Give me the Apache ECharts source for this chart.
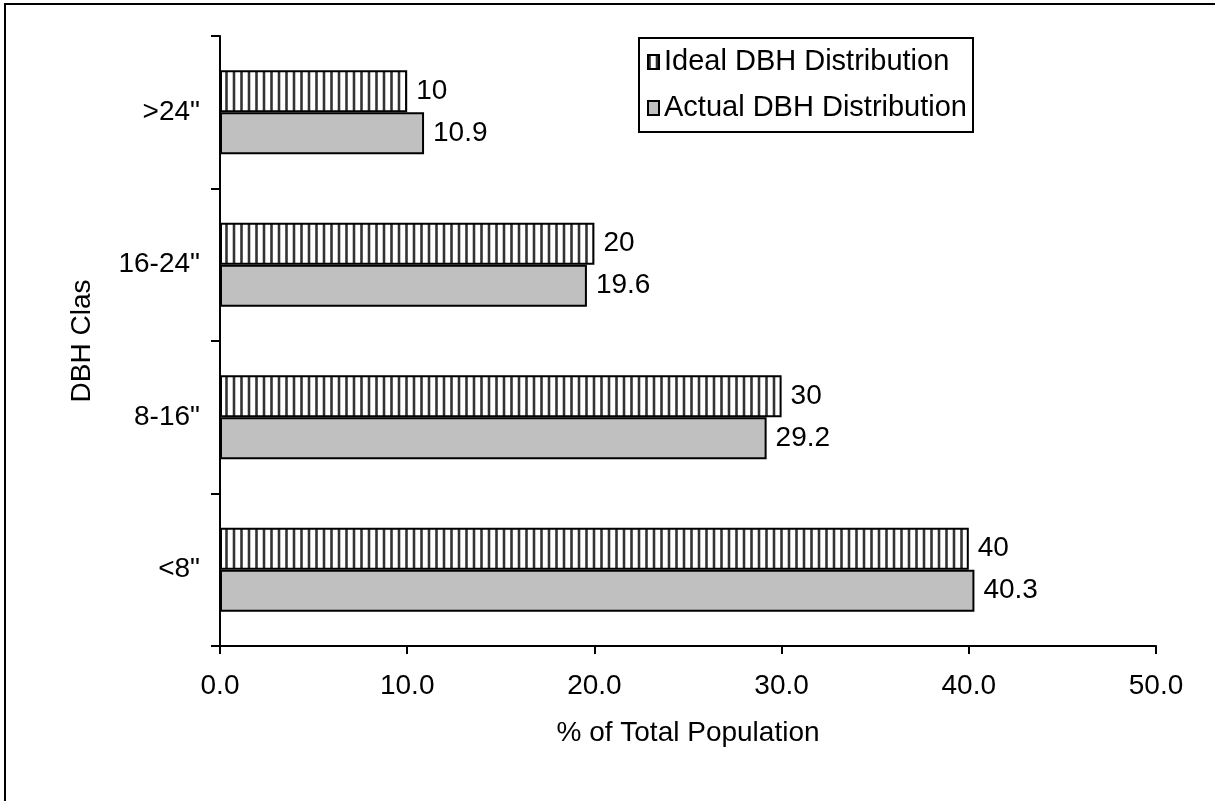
<!DOCTYPE html>
<html>
<head>
<meta charset="utf-8">
<title>DBH Distribution</title>
<script src="https://cdn.jsdelivr.net/npm/echarts@6/dist/echarts.min.js"></script>
<style>
  html, body { margin: 0; padding: 0; background: #fff; }
  #chart { width: 1215px; height: 801px; }
</style>
</head>
<body>
<div id="chart"></div>
<script>
// DBH classes, listed from the bottom of the axis upward
const categories = ['<8"', '8-16"', '16-24"', '>24"'];
const idealValues = [40, 30, 20, 10];
const actualValues = [40.3, 29.2, 19.6, 10.9];
const seriesNames = ['Ideal DBH Distribution', 'Actual DBH Distribution'];
const xTicks = { min: 0, max: 50, interval: 10 };

const FONT = '"Liberation Sans", Arial, sans-serif';

// vertical hatch fill for the ideal bars
function makeStripePattern() {
  const c = document.createElement('canvas');
  c.width = 15; c.height = 4;
  const g = c.getContext('2d');
  g.fillStyle = '#ffffff';
  g.fillRect(0, 0, 15, 4);
  [0, 7.5].forEach(function (x0) {
    g.fillStyle = '#8a8a8a';
    g.fillRect(x0, 0, 3, 4);
    g.fillStyle = '#333333';
    g.fillRect(x0 + 0.5, 0, 2, 4);
  });
  return c;
}

const chart = echarts.init(document.getElementById('chart'), null, { renderer: 'canvas' });

const labelStyle = {
  show: true,
  position: 'right',
  distance: 9,
  fontSize: 28,
  fontFamily: FONT,
  color: '#000'
};

chart.setOption({
  animation: false,
  backgroundColor: '#fff',
  textStyle: { fontFamily: FONT, color: '#000' },
  grid: { left: 220, right: 59, top: 36, bottom: 155, containLabel: false },
  graphic: [{
    type: 'rect',
    shape: { x: 5, y: 4, width: 1240, height: 830 },
    style: { fill: 'none', stroke: '#000', lineWidth: 2 },
    silent: true
  }],
  legend: {
    orient: 'vertical',
    left: 639,
    top: 38,
    padding: [8, 6, 8, 8],
    itemGap: 14,
    itemWidth: 11,
    itemHeight: 14,
    icon: 'rect',
    borderColor: '#000',
    borderWidth: 2,
    backgroundColor: '#fff',
    textStyle: { fontSize: 29, fontFamily: FONT, color: '#000', lineHeight: 32 },
    data: seriesNames
  },
  xAxis: {
    type: 'value',
    min: xTicks.min,
    max: xTicks.max,
    interval: xTicks.interval,
    name: '% of Total Population',
    nameLocation: 'middle',
    nameGap: 73,
    nameTextStyle: { fontSize: 28, fontFamily: FONT, color: '#000' },
    axisLine: { show: true, lineStyle: { color: '#000', width: 2 } },
    axisTick: { show: true, length: 8, lineStyle: { color: '#000', width: 2 } },
    axisLabel: {
      fontSize: 28, fontFamily: FONT, color: '#000', margin: 26,
      formatter: function (v) { return v.toFixed(1); }
    },
    splitLine: { show: false }
  },
  yAxis: {
    type: 'category',
    data: categories,
    name: 'DBH Class',
    nameLocation: 'middle',
    nameGap: 124,
    nameRotate: 90,
    nameTruncate: { maxWidth: 128, ellipsis: '' },
    nameTextStyle: { fontSize: 28, fontFamily: FONT, color: '#000' },
    axisLine: { show: true, lineStyle: { color: '#000', width: 2 } },
    axisTick: { show: true, length: 9, lineStyle: { color: '#000', width: 2 } },
    axisLabel: { fontSize: 28, fontFamily: FONT, color: '#000', margin: 20 },
    splitLine: { show: false }
  },
  series: [
    {
      name: seriesNames[0],
      type: 'bar',
      data: idealValues,
      barWidth: 42,
      barGap: '0%',
      itemStyle: {
        color: { image: makeStripePattern(), repeat: 'repeat' },
        borderColor: '#000',
        borderWidth: 2
      },
      label: labelStyle
    },
    {
      name: seriesNames[1],
      type: 'bar',
      data: actualValues,
      barWidth: 42,
      barGap: '0%',
      itemStyle: { color: '#c0c0c0', borderColor: '#000', borderWidth: 2 },
      label: labelStyle
    }
  ]
});
</script>
</body>
</html>
